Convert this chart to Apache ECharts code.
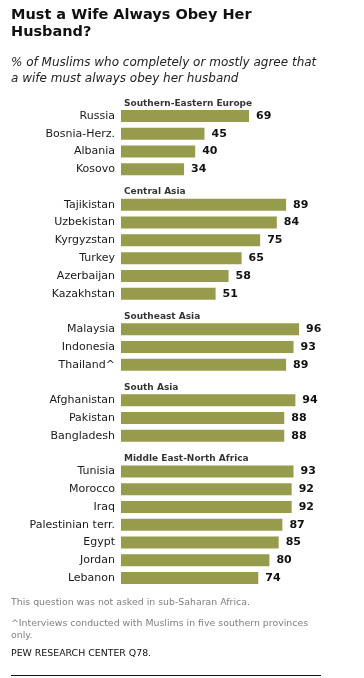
<!DOCTYPE html>
<html>
<head>
<meta charset="utf-8">
<script src="https://cdn.jsdelivr.net/npm/echarts@6/dist/echarts.min.js"></script>
<style>html,body{margin:0;padding:0;background:#fff;}#c{width:364px;height:678px;}</style>
</head>
<body>
<div id="c"></div>
<script>
const groups = ['Southern-Eastern Europe', 'Central Asia', 'Southeast Asia', 'South Asia', 'Middle East-North Africa'];
const seEurope = ['Russia', 'Bosnia-Herz.', 'Albania', 'Kosovo'];
const seEuropeVals = [69, 45, 40, 34];
const centralAsia = ['Tajikistan', 'Uzbekistan', 'Kyrgyzstan', 'Turkey', 'Azerbaijan', 'Kazakhstan'];
const centralAsiaVals = [89, 84, 75, 65, 58, 51];
const seAsia = ['Malaysia', 'Indonesia', 'Thailand^'];
const seAsiaVals = [96, 93, 89];
const southAsia = ['Afghanistan', 'Pakistan', 'Bangladesh'];
const southAsiaVals = [94, 88, 88];
const mena = ['Tunisia', 'Morocco', 'Iraq', 'Palestinian terr.', 'Egypt', 'Jordan', 'Lebanon'];
const menaVals = [93, 92, 92, 87, 85, 80, 74];

const groupCountries = [seEurope, centralAsia, seAsia, southAsia, mena];
const groupVals = [seEuropeVals, centralAsiaVals, seAsiaVals, southAsiaVals, menaVals];

const categories = [];
const barData = [];
const headerData = [];
const isHeader = {};
groups.forEach((g, gi) => {
  categories.push(g);
  isHeader[g] = true;
  barData.push(null);
  headerData.push(0);
  groupCountries[gi].forEach((c, ci) => {
    categories.push(c);
    barData.push(groupVals[gi][ci]);
    headerData.push(null);
  });
});

const chart = echarts.init(document.getElementById('c'), null, {renderer: 'canvas'});
const font = 'DejaVu Sans, Verdana, sans-serif';
chart.setOption({
  animation: false,
  backgroundColor: '#ffffff',
  title: [
    {text: 'Must a Wife Always Obey Her\nHusband?', left: 11, top: 7, padding: 0,
     textStyle: {fontFamily: font, fontSize: 14.5, fontWeight: 'bold', color: '#111', lineHeight: 17}},
    {text: '% of Muslims who completely or mostly agree that\na wife must always obey her husband', left: 11, top: 55, padding: 0,
     textStyle: {fontFamily: font, fontSize: 12, fontStyle: 'italic', fontWeight: 'normal', color: '#222', lineHeight: 16}},
    {text: 'This question was not asked in sub-Saharan Africa.', left: 11, top: 597, padding: 0,
     textStyle: {fontFamily: font, fontSize: 9.4, fontWeight: 'normal', color: '#808080', lineHeight: 12}},
    {text: '^Interviews conducted with Muslims in five southern provinces\nonly.', left: 11, top: 618, padding: 0,
     textStyle: {fontFamily: font, fontSize: 9.4, fontWeight: 'normal', color: '#808080', lineHeight: 11.7}},
    {text: 'PEW RESEARCH CENTER Q78.', left: 11, top: 648, padding: 0,
     textStyle: {fontFamily: font, fontSize: 9.4, fontWeight: 'normal', color: '#111', lineHeight: 12}}
  ],
  graphic: [
    {type: 'line', shape: {x1: 11, y1: 675.5, x2: 321, y2: 675.5}, style: {stroke: '#111', lineWidth: 1}}
  ],
  grid: {left: 121, top: 89.3, width: 185.5, height: 497.6, containLabel: false},
  xAxis: {type: 'value', min: 0, max: 100, show: false},
  yAxis: {
    type: 'category', data: categories, inverse: true,
    axisLine: {show: false}, axisTick: {show: false}, splitLine: {show: false},
    axisLabel: {
      margin: 6, fontFamily: font, fontSize: 11, color: '#1a1a1a',
      formatter: v => isHeader[v] ? '' : v
    }
  },
  series: [
    {
      type: 'bar', data: barData, barWidth: 12,
      itemStyle: {color: '#969c4c'},
      label: {show: true, position: 'right', distance: 7, fontFamily: font, fontSize: 11, fontWeight: 'bold', color: '#111'}
    },
    {
      type: 'scatter', data: headerData, symbolSize: 0, silent: true,
      label: {
        show: true, position: 'right', distance: 3, offset: [0, 5],
        fontFamily: font, fontSize: 9, fontWeight: 'bold', color: '#000',
        formatter: p => categories[p.dataIndex]
      }
    }
  ]
});
</script>
</body>
</html>
